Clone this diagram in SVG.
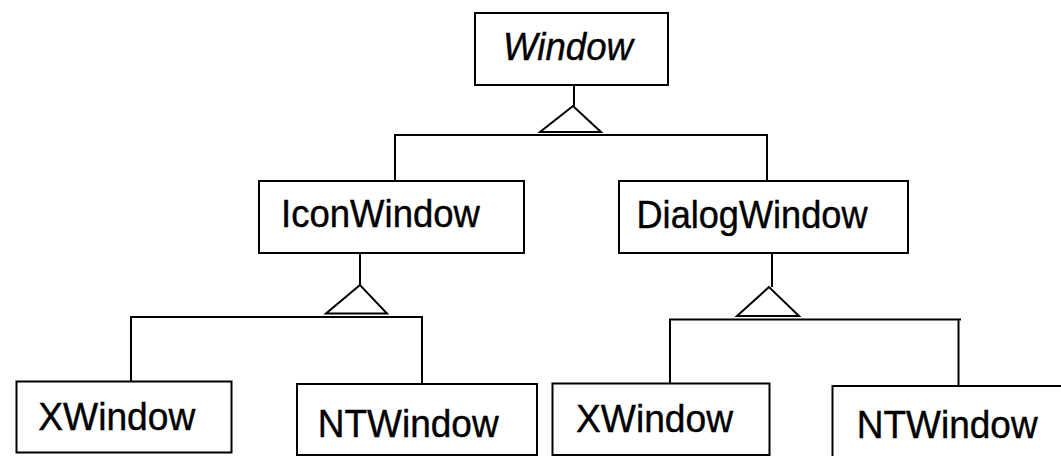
<svg xmlns="http://www.w3.org/2000/svg" width="1061" height="456" viewBox="0 0 1061 456">
<style>
.box{fill:#fff;stroke:#000;stroke-width:2}
.lbl{font-family:"Liberation Sans",Arial,sans-serif;font-size:38px;fill:#000;stroke:#000;stroke-width:0.4}
.it{font-style:italic}
.ln{fill:none;stroke:#000;stroke-width:2}
.tri{fill:#fff;stroke:#000;stroke-width:2;stroke-linejoin:miter}
</style>
<rect width="1061" height="456" fill="#fff"/>
<g id="connectors">
<path class="ln" d="M574,85 V106 M395,181 V135 H767 V181"/>
<polygon class="tri" points="573,106 540,132 601,132"/>
<path class="ln" d="M360,253 V285 M131,381 V317 H422 V384"/>
<polygon class="tri" points="360,285 326,313.5 387,313.5"/>
<path class="ln" d="M772,253 V287 M670,383 V319.5 H961 M958.5,319.5 V386"/>
<polygon class="tri" points="769,287 737,316 799,316"/>
</g>
<g id="window">
<rect class="box" x="475" y="13" width="193" height="72"/>
<text class="lbl it" x="503" y="60" textLength="130" lengthAdjust="spacingAndGlyphs">Window</text>
</g>
<g id="iconwindow">
<rect class="box" x="259" y="181" width="265" height="72"/>
<text class="lbl" x="281" y="227" textLength="199" lengthAdjust="spacingAndGlyphs">IconWindow</text>
</g>
<g id="dialogwindow">
<rect class="box" x="619" y="181" width="289" height="72"/>
<text class="lbl" x="636.5" y="228" textLength="231" lengthAdjust="spacingAndGlyphs">DialogWindow</text>
</g>
<g id="xwindow1">
<rect class="box" x="16.5" y="381.5" width="215" height="71"/>
<text class="lbl" x="38.3" y="430" textLength="157" lengthAdjust="spacingAndGlyphs">XWindow</text>
</g>
<g id="ntwindow1">
<rect class="box" x="297" y="384" width="240" height="71"/>
<text class="lbl" x="317.7" y="436.5" textLength="181" lengthAdjust="spacingAndGlyphs">NTWindow</text>
</g>
<g id="xwindow2">
<rect class="box" x="552.5" y="383.5" width="217" height="71.5"/>
<text class="lbl" x="576" y="432" textLength="157" lengthAdjust="spacingAndGlyphs">XWindow</text>
</g>
<g id="ntwindow2">
<rect class="box" x="832.5" y="386" width="250" height="80"/>
<text class="lbl" x="856.7" y="437.5" textLength="181" lengthAdjust="spacingAndGlyphs">NTWindow</text>
</g>
</svg>
